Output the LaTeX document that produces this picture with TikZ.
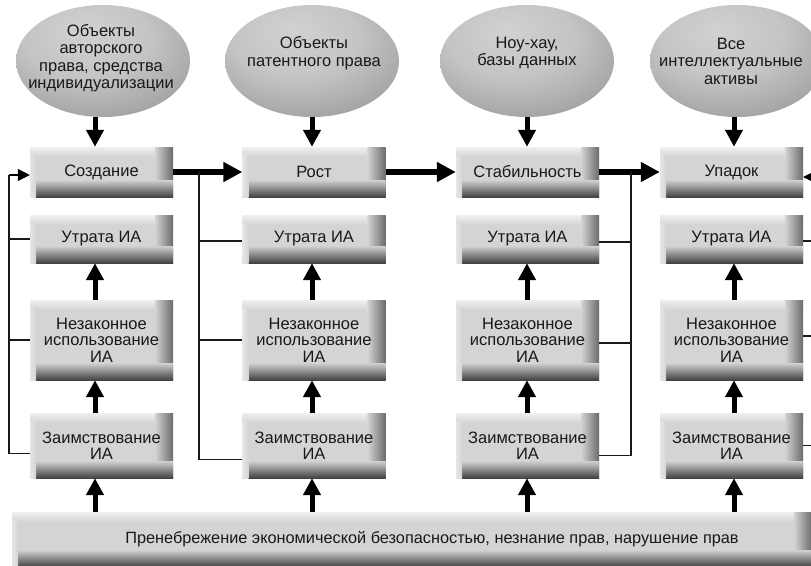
\documentclass[tikz,border=0pt]{standalone}
\usepackage{fontspec}
\setmainfont{Liberation Sans}
\usetikzlibrary{arrows.meta,shapes.geometric}

\pgfdeclareradialshading{ellsh}{\pgfpoint{-6bp}{14bp}}{%
  color(0bp)=(black!18); color(18bp)=(black!23); color(34bp)=(black!36);
  color(46bp)=(black!57); color(55bp)=(black!68); color(75bp)=(black!72)}

\tikzset{
  ell/.style={ellipse, minimum width=174pt, minimum height=112pt, inner sep=0pt,
    shade, shading=ellsh},
  etext/.style={align=center, inner sep=0pt, text=black!90,
    font=\fontsize{16.5}{17.5}\selectfont},
  btn/.style={rectangle, minimum width=143pt, inner sep=0pt, align=center,
    text=black!90, font=\fontsize{16.5}{16.5}\selectfont,
    path picture={
      \fill[black!17] (path picture bounding box.south west) rectangle (path picture bounding box.north east);
      \shade[top color=black!6, bottom color=black!17] (path picture bounding box.north west) rectangle ([yshift=-10pt]path picture bounding box.north east);
      \shade[left color=black!17, right color=black!58] ([xshift=-18pt]path picture bounding box.south east) rectangle (path picture bounding box.north east);
      \shade[top color=black!18, bottom color=black!74] (path picture bounding box.south west) rectangle ([yshift=17pt]path picture bounding box.south east);
      \shade[left color=black!10, right color=black!17] (path picture bounding box.south west) rectangle ([xshift=6pt,yshift=-8pt]path picture bounding box.north west);
    }},
  varrow/.style={line width=5pt, -{Triangle[length=17pt, width=17pt]}},
  harrow/.style={line width=6pt, -{Triangle[length=19pt, width=19pt]}},
  thinl/.style={line width=1.2pt, black!90},
  thinarrow/.style={line width=1.2pt, -{Triangle[length=12pt, width=12pt]}},
}

\begin{document}
\begin{tikzpicture}[x=1pt, y=-1pt]
\useasboundingbox (0,0) rectangle (811,565);
\clip (0,0) rectangle (811,565);

% column arrow axes
\coordinate (a1) at (95,0);
\coordinate (a2) at (312,0);
\coordinate (a3) at (527,0);
\coordinate (a4) at (734,0);

% ellipses
\node[ell] (e1) at (103,61) {};
\node[ell] (e2) at (312,61) {};
\node[ell] (e3) at (527,61) {};
\node[ell] (e4) at (737,61) {};
\node[etext] (t1) at (101,58) {Объекты\\авторского\\права, средства\\индивидуализации};
\node[etext] (t2) at (314,53) {Объекты\\патентного права};
\node[etext] (t3) at (527,53) {Ноу-хау,\\базы данных};
\node[etext] (t4) at (731,61) {Все\\интеллектуальные\\активы};

% boxes
\foreach \c/\x in {1/101.5, 2/314, 3/527.5, 4/731.5}{
  \node[btn, minimum height=48pt] (u\c) at (\x,239) {Утрата ИА};
  \node[btn, minimum height=80pt] (n\c) at (\x,340) {Незаконное\\использование\\ИА};
  \node[btn, minimum height=65pt] (z\c) at (\x,445.5) {Заимствование\\ИА};
}
\node[btn, minimum height=50pt] (s1) at (101.5,172) {Создание};
\node[btn, minimum height=50pt] (s2) at (314,172) {Рост};
\node[btn, minimum height=50pt] (s3) at (527.5,172) {Стабильность};
\node[btn, minimum height=50pt] (s4) at (731.5,172) {Упадок};

\node[btn, minimum width=800pt, minimum height=55pt, font=\fontsize{16.3}{17}\selectfont] (bot) at (412,539.5)
  {\hspace*{40pt}Пренебрежение экономической безопасностью, незнание прав, нарушение прав};

% ellipse -> stage arrows, and upward arrows in each column
\foreach \c in {1,2,3,4}{
  \draw[varrow] (e\c.south -| a\c) -- (s\c.north -| a\c);
  \draw[varrow] (n\c.north -| a\c) -- (u\c.south -| a\c);
  \draw[varrow] (z\c.north -| a\c) -- (n\c.south -| a\c);
  \draw[varrow] (bot.north -| a\c) -- (z\c.south -| a\c);
}

% stage flow
\draw[harrow] (s1.east) -- (s2.west);
\draw[harrow] (s2.east) -- (s3.west);
\draw[harrow] (s3.east) -- (s4.west);

% feedback column 1
\coordinate (j1) at (9,175);
\draw[thinarrow] (j1) -- (s1.west |- j1);
\draw[thinl] (u1.west) -| (j1);
\draw[thinl] (n1.west) -| (j1);
\draw[thinl] ([yshift=-8pt]z1.west) -| (j1);

% feedback column 2
\coordinate (j2) at (199,172);
\draw[thinl] ([yshift=-2pt]u2.west) -| (j2);
\draw[thinl] (n2.west) -| (j2);
\draw[thinl] ([yshift=-14pt]z2.west) -| (j2);

% feedback column 3
\coordinate (j3) at (631,172);
\draw[thinl] ([yshift=-3pt]u3.east) -| (j3);
\draw[thinl] ([yshift=-3pt]n3.east) -| (j3);
\draw[thinl] ([yshift=-10pt]z3.east) -| (j3);

% feedback column 4 (continues past the right edge)
\coordinate (j4) at (830,177);
\draw[thinarrow] (j4) -- (s4.east |- j4);
\draw[thinl] ([yshift=-2pt]u4.east) -| (j4);
\draw[thinl] ([yshift=4pt]n4.east) -| (j4);
\draw[thinl] (z4.east) -| (j4);
\end{tikzpicture}
\end{document}
